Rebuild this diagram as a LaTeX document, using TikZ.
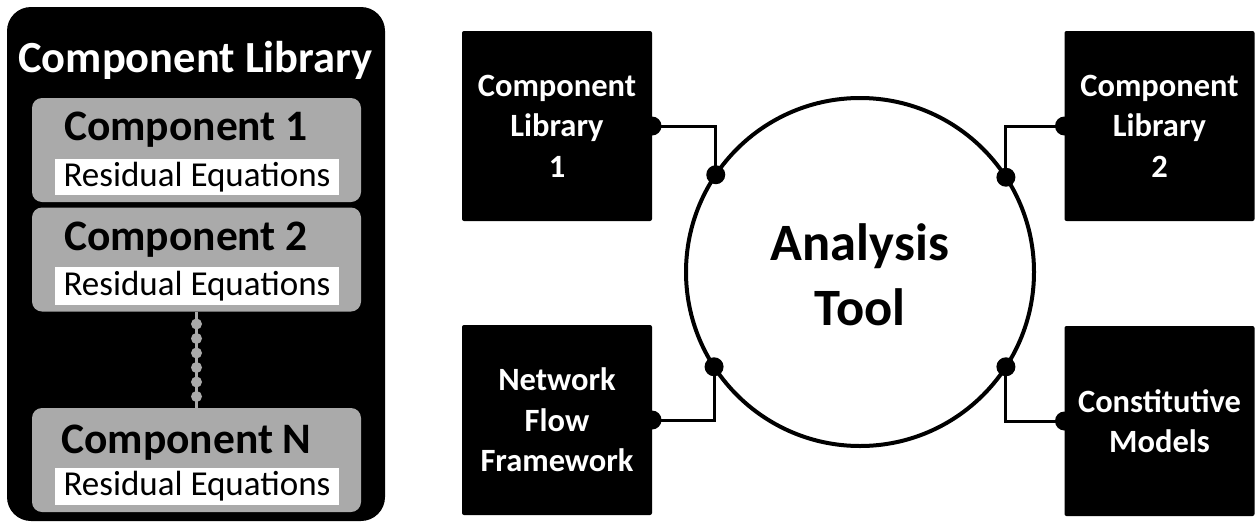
\documentclass[tikz,border=0pt]{standalone}
\usepackage{fontspec}
\setmainfont{Carlito}
\definecolor{compgray}{RGB}{170,170,170}
\begin{document}
\begin{tikzpicture}[x=1pt,y=-1pt,
  compbox/.style={fill=compgray, rounded corners=10pt, minimum width=329pt, minimum height=104pt, inner sep=0pt, outer sep=0pt},
  resbox/.style={fill=white, minimum width=284pt, inner sep=0pt, font=\fontsize{35}{35}\selectfont},
  comptitle/.style={anchor=base, inner sep=0pt, font=\fontsize{43.5}{43.5}\selectfont\bfseries},
  blkbox/.style={fill=black, rounded corners=2pt, minimum width=190pt, minimum height=190pt, inner sep=0pt, outer sep=0pt, text=white, align=center, font=\fontsize{32.5}{40.5}\selectfont\bfseries},
  wire/.style={line width=3pt},
  bigdot/.style={circle, fill=black, minimum size=19pt, inner sep=0pt},
  enddot/.style={circle, fill=black, minimum size=19pt, inner sep=0pt},
  bead/.style={circle, fill=compgray, minimum size=11pt, inner sep=0pt}]
\useasboundingbox (0,0) rectangle (1255,525);
% left panel
\node (lib) [fill=black, rounded corners=24pt, minimum width=378pt, minimum height=514pt, inner sep=0pt, outer sep=0pt] at (196,264) {};
\node (libtitle) [anchor=base, inner sep=0pt, text=white, font=\fontsize{44.5}{44.5}\selectfont\bfseries] at (195.5,72) {Component Library};
\node (c1) [compbox] at (196.5,150) {};
\node (c2) [compbox] at (196.5,259.5) {};
\node (cn) [compbox] at (196.5,460) {};
\node (c1t) [comptitle] at (186,140) {Component 1};
\node (c2t) [comptitle] at (186,250) {Component 2};
\node (cnt) [comptitle] at (186.5,453) {Component N};
\node (r1) [resbox, minimum height=36pt] at (197,177) {Residual Equations};
\node (r2) [resbox, minimum height=38pt] at (197,286) {Residual Equations};
\node (r3) [resbox, minimum height=37pt] at (197,486.5) {Residual Equations};
\draw[compgray, line width=3pt] (c2.south) -- (cn.north);
\foreach \y/\n in {324/a,338.5/b,353/c,367.5/d,382/e,396.5/f} \node (bead\n) [bead] at (196.5,\y) {};
% circle
\node (at) [circle, draw, line width=4pt, minimum size=348pt, inner sep=0pt, outer sep=0pt] at (860,272) {};
\node (attxt) [align=center, font=\fontsize{52.5}{65}\selectfont\bfseries] at (860,275) {Analysis\\Tool};
% boxes
\node (cl1) [blkbox] at (557,126) {Component\\Library\\1};
\node (nff) [blkbox] at (557,420) {Network\\Flow\\Framework};
\node (cl2) [blkbox] at (1159.5,126) {Component\\Library\\2};
\node (cm) [blkbox] at (1159.5,421) {Constitutive\\Models};
% connectors
\draw[wire] (cl1.east) -| (at.146.5);
\draw[wire] (nff.east) -| (at.213.5);
\draw[wire] (cl2.west) -| (at.33.5);
\draw[wire] (cm.west) -| (at.-33.5);
\node[enddot] at (cl1.east) {};
\node[enddot] at (nff.east) {};
\node[enddot] at (cl2.west) {};
\node[enddot] at (cm.west) {};
\node[bigdot] at (at.146.5) {};
\node[bigdot] at (at.213.5) {};
\node[bigdot] at (at.33.5) {};
\node[bigdot] at (at.-33.5) {};
\end{tikzpicture}
\end{document}
